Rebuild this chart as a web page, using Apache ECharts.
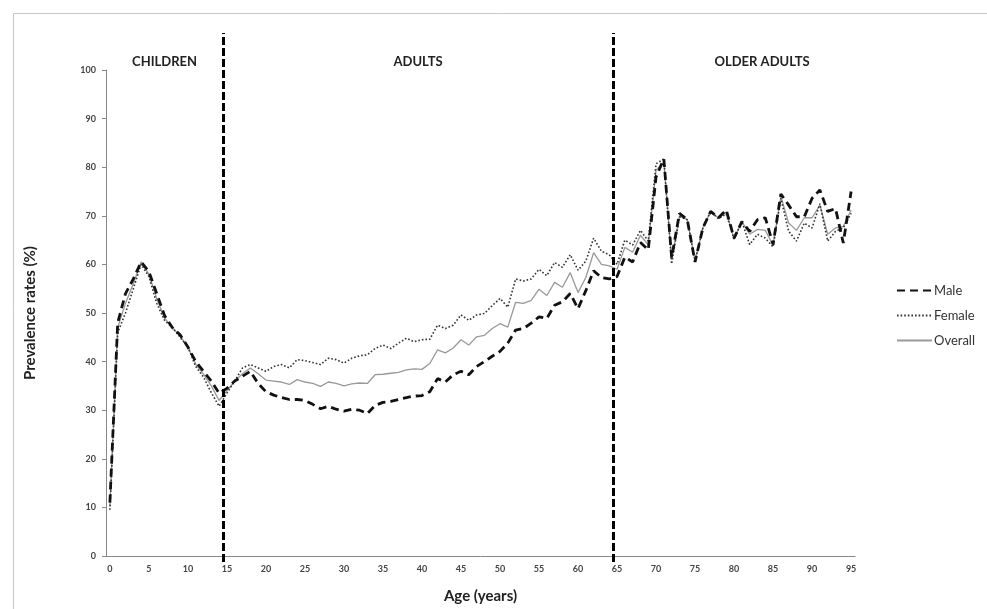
<!DOCTYPE html>
<html>
<head>
<meta charset="utf-8">
<script src="https://cdn.jsdelivr.net/npm/echarts@6/dist/echarts.min.js"></script>
<style>
  html, body { margin: 0; padding: 0; background: #fff; }
  #chart { width: 987px; height: 609px; }
</style>
</head>
<body>
<div id="chart"></div>
<script>
var ages = [];
for (var a = 0; a <= 95; a++) { ages.push(String(a)); }

var male = [11, 48, 54, 57, 60.5, 58.5, 54, 49.5, 47, 45.5,
  43, 40, 38, 36, 33.5, 34.5, 36, 37, 38, 35.5,
  33.8, 33.1, 32.6, 32.2, 32.2, 32, 31.2, 30.3, 30.8, 30.2,
  29.8, 30.2, 30, 29.3, 31, 31.6, 31.8, 32.2, 32.6, 32.9,
  33, 33.8, 36.5, 35.8, 37.3, 38, 37.3, 39, 40, 41.1,
  42.1, 43.8, 46.5, 46.8, 47.9, 49.2, 48.9, 51.6, 52.3, 54,
  50.9, 54.6, 58.7, 57.3, 57, 57.5, 61.5, 60.5, 64.5, 63,
  78, 81.7, 61.4, 70.5, 69.2, 60.5, 67.5, 70.9, 69.6, 71.2,
  65.4, 68.8, 66.8, 69.2, 69.6, 64.1, 74.5, 72.2, 69.8, 69.8,
  73.6, 75.3, 70.9, 71.5, 64.4, 75];

var female = [9.5, 46, 50, 55, 60, 57.5, 52, 48.5, 47, 45,
  43, 39, 36.8, 33.6, 30.8, 33.5, 36, 38.7, 39.4, 38.7,
  38, 39, 39.4, 38.7, 40.4, 40.2, 39.8, 39.4, 40.7, 40.4,
  39.7, 40.7, 41.2, 41.4, 42.7, 43.4, 42.7, 43.8, 44.8, 44.1,
  44.5, 44.6, 47.5, 46.8, 47.5, 49.6, 48.5, 49.6, 49.9, 51.5,
  53, 51.2, 57, 56.6, 57, 59, 57.7, 60.4, 59.4, 62,
  58.8, 60.7, 65.4, 62.7, 62, 60, 65, 64, 67, 64.8,
  80.7, 81.7, 60.1, 69.8, 69.2, 60.7, 67.5, 70.9, 69.4, 70.4,
  65.2, 68.8, 64.1, 66.2, 65.4, 63.6, 73.6, 66.8, 64.8, 68.5,
  67.5, 72.5, 64.8, 66.8, 67.5, 70.5];

var overall = [10.2, 47, 52, 56, 60.5, 58, 53, 49, 47, 45.3,
  43, 39.5, 37.4, 35, 32, 34, 36, 37.5, 38.7, 37.5,
  36.2, 36, 35.8, 35.3, 36.3, 35.8, 35.5, 34.9, 35.8, 35.5,
  35, 35.4, 35.6, 35.5, 37.3, 37.4, 37.6, 37.8, 38.3, 38.5,
  38.4, 39.6, 42.4, 41.8, 42.8, 44.5, 43.4, 45.1, 45.4, 46.8,
  47.8, 47.1, 52.2, 52, 52.6, 54.9, 53.6, 56.3, 55.3, 58.3,
  54.2, 57.3, 62.4, 60, 59.7, 59, 63.5, 62.5, 66, 64,
  79.4, 81, 61, 70, 69.2, 60.6, 67.5, 70.9, 69.5, 70.8,
  65.3, 68.8, 66.2, 67.2, 67, 64, 74, 68.5, 67, 69.6,
  69.6, 72.2, 66.2, 67.5, 67.8, 71.2];

// age groups: name and band edges (category index)
var groupNames = ['CHILDREN', 'ADULTS', 'OLDER ADULTS'];
var groupEdges = [-0.5, 14.5, 64.5, 95.5];

var chart = echarts.init(document.getElementById('chart'));

var font = 'Lato, "Open Sans", sans-serif';

var areas = [];
for (var i = 0; i < groupNames.length; i++) {
  var start = { xAxis: groupEdges[i], name: groupNames[i] };
  if (i === 2) { start.label = { offset: [28, 0] }; }
  areas.push([start, { xAxis: groupEdges[i + 1] }]);
}
var dividers = [];
for (var j = 1; j < groupEdges.length - 1; j++) {
  dividers.push({ xAxis: groupEdges[j] });
}

var option = {
  animation: false,
  backgroundColor: '#fff',
  graphic: [{
    type: 'rect',
    left: 11, top: 11,
    shape: { width: 975, height: 640 },
    style: { fill: 'none', stroke: '#c8c8c8', lineWidth: 1 },
    silent: true
  }],
  legend: {
    orient: 'vertical',
    left: 891,
    top: 279,
    itemWidth: 35,
    itemHeight: 14,
    itemGap: 12,
    itemStyle: { opacity: 0 },
    data: ['Male', 'Female', 'Overall'],
    textStyle: { fontFamily: font, fontSize: 13, color: '#333', padding: [0, 0, 0, -3] }
  },
  grid: [
    { left: 106, right: 132, top: 70, bottom: 47 },
    { left: 106, right: 132, top: 33, bottom: 47 }
  ],
  xAxis: [{
    type: 'category',
    gridIndex: 0,
    data: ages,
    boundaryGap: true,
    name: 'Age (years)',
    nameLocation: 'middle',
    nameGap: 33,
    nameTextStyle: { fontFamily: font, fontSize: 15, fontWeight: 'bold', color: '#222' },
    axisLine: { lineStyle: { color: '#888', width: 1 } },
    axisTick: { interval: 0, length: 4, lineStyle: { color: '#888' } },
    axisLabel: { interval: 4, margin: 9, fontFamily: font, fontSize: 9, fontWeight: 'bold', color: '#444' },
    splitLine: { show: false }
  }, {
    type: 'value',
    gridIndex: 1,
    min: -0.5,
    max: 95.5,
    show: false
  }],
  yAxis: [{
    type: 'value',
    gridIndex: 0,
    min: 0,
    max: 100,
    interval: 10,
    name: 'Prevalence rates (%)',
    nameLocation: 'middle',
    nameRotate: 90,
    nameGap: 68,
    nameTextStyle: { fontFamily: font, fontSize: 15, fontWeight: 'bold', color: '#222' },
    axisLine: { show: true, lineStyle: { color: '#888', width: 1 } },
    axisTick: { show: true, length: 4, lineStyle: { color: '#888' } },
    axisLabel: { margin: 10, fontFamily: font, fontSize: 9, fontWeight: 'bold', color: '#444' },
    splitLine: { show: false }
  }, {
    type: 'value',
    gridIndex: 1,
    min: 0,
    max: 1,
    show: false
  }],
  series: [{
    name: 'Male',
    type: 'line',
    data: male,
    symbol: 'none',
    z: 4,
    lineStyle: { color: '#111', width: 2.8, type: [8, 5] },
    itemStyle: { color: '#111' }
  }, {
    name: 'Female',
    type: 'line',
    data: female,
    symbol: 'none',
    z: 3,
    lineStyle: { color: '#333', width: 1.6, type: [1.6, 2] },
    itemStyle: { color: '#333' }
  }, {
    name: 'Overall',
    type: 'line',
    data: overall,
    symbol: 'none',
    z: 2,
    lineStyle: { color: '#999', width: 1.3 },
    itemStyle: { color: '#999' }
  }, {
    name: 'groups',
    type: 'line',
    xAxisIndex: 1,
    yAxisIndex: 1,
    data: [],
    symbol: 'none',
    silent: true,
    markLine: {
      silent: true,
      symbol: ['none', 'none'],
      label: { show: false },
      lineStyle: { color: '#000', width: 3, type: [8, 3] },
      data: dividers
    },
    markArea: {
      silent: true,
      itemStyle: { color: 'rgba(0,0,0,0)' },
      label: {
        position: 'insideTop',
        distance: 22,
        fontFamily: font,
        fontSize: 13,
        fontWeight: 'bold',
        color: '#222'
      },
      data: areas
    }
  }]
};

chart.setOption(option);
</script>
</body>
</html>
